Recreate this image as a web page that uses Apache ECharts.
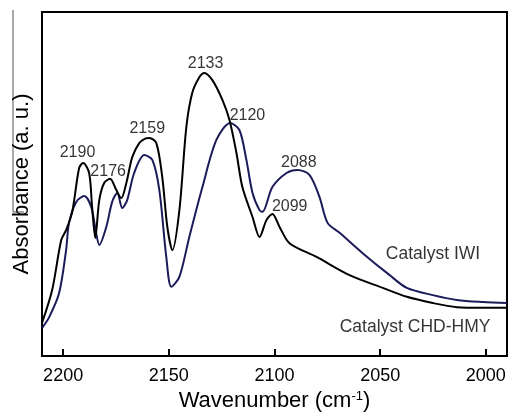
<!DOCTYPE html>
<html>
<head>
<meta charset="utf-8">
<script src="https://cdn.jsdelivr.net/npm/echarts@6/dist/echarts.min.js"></script>
<style>
  html, body { margin: 0; padding: 0; background: #fff; }
  #main { width: 509px; height: 413px; }
</style>
</head>
<body>
<div id="main"></div>
<script>
// spectra: [wavenumber, absorbance (a.u.)]
const hmyData = [
  [2210, 9.6], [2205.2, 19.2], [2200.9, 33.7], [2198.6, 36.6], [2195.7, 41.9],
  [2192.4, 54.7], [2190.5, 56.1], [2187.7, 53.2], [2186.3, 43.3], [2184.8, 34.3],
  [2182.9, 45.3], [2180.6, 50.3], [2177.8, 51.5], [2174.9, 48.3], [2172.5, 45.9],
  [2170.1, 50.3], [2167.3, 57.8], [2164.0, 61.9], [2161.2, 63.2], [2159.2, 63.4],
  [2155.9, 61.9], [2153.1, 52.0], [2150.7, 37.5], [2148.3, 30.8], [2145.0, 42.4],
  [2141.7, 66.6], [2138.9, 76.5], [2135.5, 81.1], [2133.2, 82.3], [2129.4, 80.2],
  [2124.6, 74.4], [2121.3, 68.6], [2118.0, 59.0], [2115.2, 49.1], [2110.4, 40.4],
  [2107.1, 34.6], [2103.8, 39.5], [2101.0, 41.3], [2097.6, 37.5], [2092.9, 32.8],
  [2080.1, 28.8], [2064.5, 23.5], [2048.8, 19.8], [2037.4, 17.2], [2025.1, 15.4],
  [2013.7, 14.2], [2001.4, 14.0], [1990, 14.0]
];
const iwiData = [
  [2210, 8.1], [2206.6, 11.3], [2201.9, 18.3], [2198.6, 30.8], [2197.2, 38.7],
  [2193.8, 44.8], [2190.0, 46.5], [2186.7, 43.3], [2184.4, 35.8], [2182.9, 32.3],
  [2179.6, 37.5], [2176.8, 44.8], [2174.4, 47.4], [2172.0, 43.0], [2169.7, 45.3],
  [2166.4, 53.2], [2161.6, 58.4], [2157.8, 57.0], [2154.5, 48.3], [2151.2, 28.8],
  [2148.8, 20.1], [2145.0, 23.0], [2140.3, 34.6], [2134.1, 49.1], [2127.5, 62.8],
  [2120.9, 67.7], [2116.6, 65.7], [2113.3, 57.0], [2110.4, 47.4], [2107.1, 42.4],
  [2105.7, 41.9], [2101.0, 49.1], [2094.3, 53.2], [2089.1, 54.1], [2083.4, 52.6],
  [2078.7, 46.2], [2074.9, 38.7], [2069.2, 35.8], [2058.3, 29.9], [2045.5, 23.5],
  [2037.4, 19.8], [2025.1, 17.7], [2013.7, 16.3], [2001.4, 15.7], [1990, 15.4]
];
const xTicks = [2200, 2150, 2100, 2050, 2000];
// peak labels: [text, wavenumber, absorbance]
const peakLabels = [
  ['2190', 2193.2, 59.0], ['2176', 2178.7, 53.5], ['2159', 2160.2, 66.2],
  ['2133', 2132.6, 85.0], ['2120', 2112.8, 70.0], ['2099', 2092.8, 43.5],
  ['2088', 2088.5, 56.2]
];
const seriesNames = ['Catalyst IWI', 'Catalyst CHD-HMY'];

var chartDom = document.getElementById('main');
var myChart = echarts.init(chartDom);
var font = 'Liberation Sans, Arial, sans-serif';

var option = {
  animation: false,
  backgroundColor: '#fff',
  grid: {
    left: 42, right: 2, top: 12, bottom: 57,
    containLabel: false,
    outerBoundsMode: 'none',
    show: true, borderColor: '#000', borderWidth: 2
  },
  xAxis: {
    type: 'value',
    min: 1990,
    max: 2210,
    inverse: true,
    name: 'Wavenumber (cm{sup|-1})',
    nameLocation: 'middle',
    nameGap: 31,
    nameTextStyle: {
      color: '#000', fontSize: 22, fontFamily: font,
      rich: { sup: { fontSize: 13, verticalAlign: 'top', padding: [0, 0, 9, 0], color: '#000', fontFamily: font } }
    },
    axisLine: { lineStyle: { color: '#000', width: 2 } },
    axisTick: { inside: true, length: 7, lineStyle: { color: '#000', width: 2 }, customValues: xTicks },
    axisLabel: {
      color: '#000', fontSize: 18, fontFamily: font, margin: 11,
      customValues: xTicks, formatter: v => String(v)
    },
    splitLine: { show: false }
  },
  yAxis: {
    type: 'value',
    min: 0,
    max: 100,
    name: 'Absorbance (a. u.)',
    nameLocation: 'middle',
    nameGap: 9,
    nameTextStyle: { color: '#000', fontSize: 22, fontFamily: font },
    axisLine: { lineStyle: { color: '#000', width: 2 } },
    axisTick: { show: false },
    axisLabel: { show: false },
    splitLine: { show: false }
  },
  series: [
    {
      name: seriesNames[0],
      type: 'line',
      data: iwiData,
      smooth: 0.3,
      symbol: 'none',
      lineStyle: { color: '#1c1b5a', width: 2 },
      z: 2
    },
    {
      name: seriesNames[1],
      type: 'line',
      data: hmyData,
      smooth: 0.3,
      symbol: 'none',
      lineStyle: { color: '#000', width: 2 },
      z: 3
    },
    {
      type: 'scatter',
      data: peakLabels.map(p => ({ value: [p[1], p[2]], name: p[0] })),
      symbolSize: 0,
      label: {
        show: true, position: 'inside', formatter: '{b}',
        color: '#000', fontSize: 16, fontFamily: font
      },
      z: 5
    },
    {
      type: 'scatter',
      data: [
        { value: [2025, 29.5], name: seriesNames[0] },
        { value: [2033.5, 8.5], name: seriesNames[1] }
      ],
      symbolSize: 0,
      label: {
        show: true, position: 'inside', formatter: '{b}',
        color: '#000', fontSize: 17.5, fontFamily: font
      },
      z: 5
    }
  ],
  graphic: [
    {
      type: 'polyline',
      shape: { points: [[13, 10], [13, 212], [24, 212]] },
      style: { stroke: '#555', lineWidth: 1, fill: null }
    }
  ]
};
option && myChart.setOption(option);
</script>
</body>
</html>
